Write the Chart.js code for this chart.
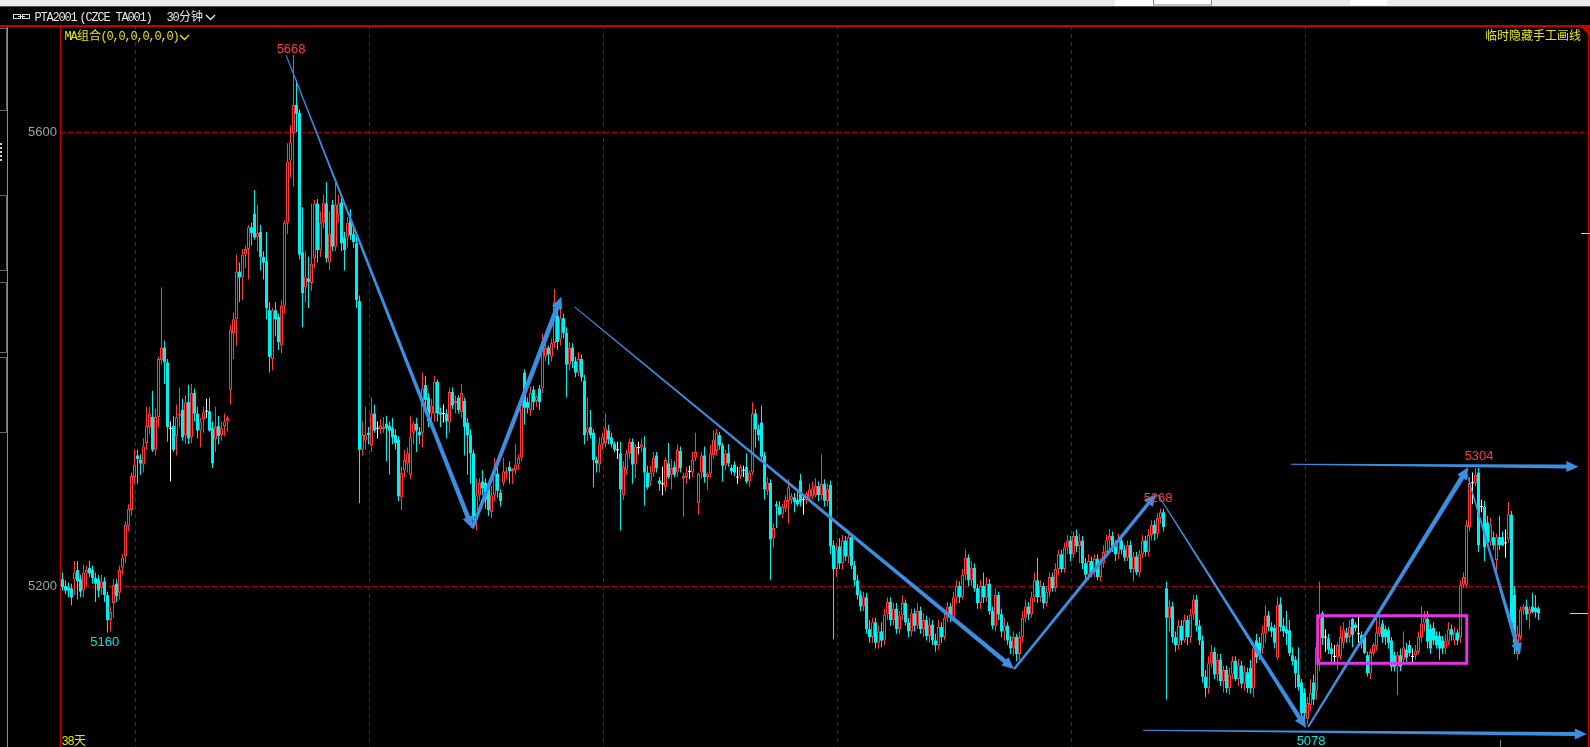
<!DOCTYPE html>
<html><head><meta charset="utf-8">
<script src="https://cdn.jsdelivr.net/npm/chart.js@4/dist/chart.umd.min.js"></script>
<style>html,body{margin:0;padding:0;background:#000;overflow:hidden}canvas{display:block}</style>
</head><body>
<canvas id="c" width="1590" height="747"></canvas>
<script>
// ---------- data (30-minute bars, PTA2001) ----------
const openP=[
5206,5200,5199,5198,5206,5214,5206,5196,5211,5216,
5214,5207,5206,5198,5204,5192,5170,5185,5202,5194,
5216,5226,5253,5267,5296,5315,5311,5307,5326,5340,
5349,5320,5349,5399,5410,5397,5339,5341,5332,5350,
5355,5333,5362,5331,5370,5352,5337,5347,5354,5354,
5339,5329,5341,5333,5341,5345,5373,5423,5435,5477,
5472,5492,5497,5516,5528,5507,5512,5490,5486,5443,
5400,5443,5437,5412,5447,5520,5575,5599,5624,5617,
5494,5463,5471,5467,5489,5537,5496,5520,5537,5485,
5536,5499,5527,5538,5507,5507,5523,5510,5502,5451,
5320,5328,5335,5324,5352,5339,5338,5338,5343,5341,
5339,5333,5329,5278,5302,5308,5298,5335,5343,5336,
5335,5377,5366,5352,5352,5380,5353,5352,5352,5344,
5371,5361,5366,5353,5363,5344,5333,5317,5258,5280,
5292,5291,5286,5265,5280,5299,5282,5291,5299,5305,
5301,5302,5307,5313,5388,5362,5355,5373,5363,5374,
5374,5402,5410,5402,5414,5438,5417,5436,5423,5395,
5410,5398,5388,5400,5381,5335,5340,5335,5311,5307,
5325,5326,5337,5331,5325,5320,5317,5280,5302,5317,
5327,5307,5322,5322,5322,5300,5292,5300,5315,5293,
5290,5287,5308,5298,5305,5300,5319,5295,5296,5301,
5300,5313,5273,5300,5315,5296,5299,5315,5319,5333,
5324,5306,5317,5304,5307,5296,5297,5302,5305,5292,
5300,5352,5338,5344,5315,5284,5291,5242,5272,5270,
5263,5268,5275,5276,5278,5276,5293,5276,5276,5278,
5279,5280,5288,5280,5290,5275,5289,5236,5215,5235,
5220,5240,5226,5243,5218,5205,5192,5182,5190,5162,
5155,5168,5150,5160,5152,5175,5186,5170,5180,5162,
5174,5185,5168,5160,5176,5165,5178,5162,5170,5156,
5166,5152,5148,5164,5155,5172,5182,5172,5190,5200,
5190,5210,5225,5205,5216,5198,5185,5200,5190,5202,
5178,5165,5192,5175,5160,5165,5152,5145,5155,5140,
5155,5172,5182,5175,5190,5205,5190,5200,5185,5195,
5208,5198,5215,5228,5215,5234,5240,5228,5244,5235,
5240,5220,5210,5222,5212,5224,5208,5220,5230,5240,
5244,5235,5228,5240,5232,5225,5236,5215,5226,5212,
5228,5240,5230,5245,5254,5246,5260,5265,5198,5172,
5182,5155,5148,5165,5152,5170,5155,5175,5188,5165,
5152,5120,5110,5132,5142,5122,5135,5116,5126,5110,
5122,5134,5118,5130,5114,5124,5128,5110,5152,5150,
5145,5158,5174,5164,5163,5137,5184,5165,5162,5161,
5139,5135,5122,5115,5106,5083,5095,5115,5108,5135,
5176,5155,5154,5145,5138,5137,5138,5150,5159,5155,
5171,5166,5158,5157,5156,5139,5123,5141,5147,5158,
5167,5162,5161,5152,5139,5129,5139,5135,5144,5148,
5138,5139,5142,5155,5167,5171,5162,5163,5156,5156,
5152,5145,5151,5162,5152,5159,5155,5201,5201,5252,
5291,5291,5300,5270,5270,5256,5239,5243,5223,5243,
5243,5238,5241,5263,5192,5140,5155,5179,5182,5175,
5182,5181,5180];
const highP=[
5212,5205,5203,5202,5222,5222,5210,5219,5218,5222,
5218,5212,5210,5210,5208,5195,5182,5206,5206,5218,
5228,5257,5272,5300,5320,5320,5316,5330,5358,5358,
5372,5356,5402,5463,5416,5400,5345,5350,5360,5375,
5365,5368,5377,5378,5374,5358,5348,5358,5365,5366,
5345,5358,5350,5345,5352,5350,5430,5441,5492,5485,
5497,5500,5518,5520,5549,5536,5518,5495,5512,5450,
5445,5450,5440,5452,5522,5590,5606,5668,5646,5620,
5534,5495,5490,5537,5540,5541,5530,5545,5556,5530,
5540,5555,5545,5545,5512,5525,5532,5515,5508,5456,
5345,5358,5340,5366,5360,5345,5347,5349,5350,5345,
5348,5338,5332,5305,5320,5322,5350,5345,5348,5340,
5388,5385,5370,5365,5385,5382,5357,5360,5356,5375,
5375,5368,5368,5378,5366,5348,5338,5320,5295,5295,
5302,5295,5290,5288,5313,5306,5285,5313,5305,5310,
5304,5325,5316,5368,5391,5366,5376,5376,5368,5377,
5422,5415,5412,5418,5462,5445,5445,5440,5428,5415,
5414,5402,5406,5404,5386,5366,5355,5338,5314,5331,
5335,5352,5342,5335,5327,5327,5327,5310,5320,5330,
5330,5325,5327,5330,5332,5306,5306,5318,5318,5296,
5305,5313,5326,5312,5310,5325,5323,5300,5305,5306,
5318,5335,5300,5318,5323,5300,5324,5337,5338,5336,
5326,5320,5325,5307,5310,5305,5307,5306,5317,5302,
5362,5356,5342,5359,5318,5296,5294,5255,5275,5275,
5272,5280,5294,5282,5282,5285,5299,5281,5283,5290,
5292,5295,5292,5316,5294,5290,5293,5240,5238,5242,
5245,5244,5248,5246,5222,5210,5196,5195,5194,5170,
5172,5172,5165,5168,5180,5190,5190,5185,5185,5178,
5192,5188,5172,5180,5180,5185,5182,5176,5174,5172,
5170,5158,5170,5168,5178,5186,5185,5195,5205,5204,
5215,5232,5228,5222,5220,5202,5205,5212,5208,5206,
5182,5198,5195,5180,5172,5168,5156,5160,5158,5160,
5178,5188,5186,5195,5212,5225,5205,5203,5200,5212,
5212,5220,5232,5232,5238,5245,5244,5248,5250,5246,
5244,5225,5228,5226,5228,5228,5225,5236,5245,5250,
5248,5240,5246,5244,5236,5240,5240,5230,5230,5232,
5245,5244,5250,5258,5258,5264,5268,5268,5204,5188,
5186,5160,5170,5170,5175,5174,5180,5192,5192,5170,
5156,5126,5138,5148,5146,5140,5140,5130,5130,5128,
5138,5138,5136,5134,5130,5128,5135,5150,5158,5155,
5165,5183,5178,5168,5166,5190,5190,5172,5178,5170,
5146,5138,5146,5118,5110,5102,5118,5122,5150,5204,
5178,5162,5158,5150,5148,5150,5165,5168,5163,5170,
5172,5168,5175,5160,5158,5142,5145,5150,5172,5175,
5170,5165,5164,5155,5142,5142,5145,5160,5150,5152,
5145,5148,5160,5182,5178,5178,5166,5168,5160,5160,
5156,5158,5168,5166,5164,5162,5205,5212,5258,5296,
5300,5304,5304,5276,5275,5262,5260,5248,5246,5262,
5248,5250,5274,5266,5200,5165,5182,5184,5188,5182,
5194,5192,5182];
const lowP=[
5196,5193,5190,5183,5192,5188,5190,5190,5200,5208,
5202,5186,5190,5192,5186,5159,5160,5172,5186,5188,
5210,5220,5248,5262,5290,5290,5298,5300,5320,5334,
5318,5315,5340,5395,5378,5327,5292,5318,5315,5340,
5328,5325,5325,5326,5345,5330,5322,5335,5348,5336,
5304,5318,5325,5328,5332,5336,5360,5400,5412,5450,
5452,5480,5470,5500,5505,5495,5478,5470,5435,5388,
5390,5420,5408,5405,5440,5510,5560,5552,5600,5488,
5428,5450,5445,5460,5480,5485,5490,5515,5485,5478,
5495,5495,5520,5495,5478,5498,5505,5498,5445,5273,
5315,5320,5325,5318,5335,5330,5334,5335,5310,5298,
5325,5320,5275,5267,5296,5300,5294,5325,5318,5325,
5322,5355,5340,5345,5345,5345,5340,5344,5330,5335,
5356,5352,5352,5348,5315,5298,5290,5258,5249,5275,
5280,5268,5262,5260,5275,5278,5270,5288,5294,5290,
5290,5298,5302,5310,5342,5352,5350,5355,5358,5355,
5370,5398,5395,5398,5410,5408,5412,5418,5366,5390,
5392,5384,5385,5380,5325,5328,5330,5287,5300,5300,
5320,5322,5325,5322,5318,5312,5249,5276,5298,5312,
5290,5295,5316,5318,5271,5285,5288,5296,5300,5284,
5280,5283,5294,5285,5296,5296,5300,5261,5290,5294,
5296,5310,5263,5295,5291,5285,5296,5312,5315,5320,
5292,5302,5305,5298,5297,5290,5294,5296,5290,5287,
5298,5322,5328,5310,5276,5280,5205,5234,5251,5262,
5260,5265,5255,5272,5265,5270,5270,5263,5272,5275,
5276,5278,5275,5276,5270,5270,5228,5153,5208,5215,
5215,5222,5220,5215,5200,5188,5178,5178,5158,5150,
5150,5145,5145,5146,5148,5170,5165,5165,5158,5158,
5170,5165,5155,5156,5160,5162,5158,5155,5152,5150,
5148,5142,5144,5150,5152,5168,5168,5170,5185,5185,
5188,5205,5200,5200,5195,5180,5180,5185,5186,5175,
5162,5160,5170,5155,5152,5148,5140,5138,5134,5135,
5150,5168,5170,5172,5186,5185,5186,5180,5182,5190,
5195,5195,5210,5212,5212,5228,5222,5225,5230,5220,
5215,5205,5205,5208,5208,5205,5204,5216,5226,5232,
5230,5222,5224,5228,5222,5222,5212,5204,5210,5208,
5225,5226,5226,5240,5240,5242,5255,5248,5100,5160,
5150,5142,5144,5148,5150,5148,5150,5170,5160,5148,
5115,5102,5105,5128,5118,5116,5112,5106,5106,5104,
5118,5116,5112,5110,5108,5106,5105,5102,5132,5135,
5140,5150,5160,5155,5145,5135,5160,5155,5148,5138,
5130,5110,5108,5085,5080,5078,5090,5095,5100,5125,
5148,5142,5140,5132,5132,5126,5135,5145,5150,5150,
5146,5160,5150,5145,5140,5120,5118,5138,5143,5155,
5150,5148,5145,5125,5125,5104,5125,5132,5132,5138,
5132,5135,5140,5150,5160,5145,5140,5148,5145,5135,
5140,5140,5148,5152,5148,5148,5150,5198,5198,5248,
5272,5288,5230,5265,5222,5235,5235,5232,5212,5232,
5235,5225,5238,5160,5140,5135,5152,5175,5170,5162,
5176,5172,5170];
const closeP=[
5199,5196,5196,5190,5212,5204,5195,5212,5214,5211,
5207,5202,5196,5204,5192,5170,5177,5201,5191,5214,
5225,5254,5268,5297,5307,5312,5308,5323,5341,5352,
5320,5349,5400,5410,5397,5340,5339,5320,5349,5352,
5331,5362,5330,5370,5352,5337,5345,5353,5354,5337,
5308,5340,5332,5339,5345,5348,5426,5435,5477,5472,
5492,5497,5516,5511,5507,5511,5490,5485,5445,5402,
5443,5435,5415,5447,5520,5574,5591,5624,5616,5492,
5458,5472,5468,5484,5537,5496,5520,5538,5489,5510,
5499,5536,5537,5502,5496,5520,5509,5503,5452,5320,
5333,5333,5333,5352,5337,5339,5341,5340,5339,5337,
5331,5326,5279,5300,5311,5317,5331,5343,5337,5333,
5374,5364,5345,5359,5380,5352,5351,5352,5345,5371,
5359,5363,5355,5370,5340,5333,5317,5261,5280,5291,
5286,5276,5267,5280,5299,5284,5275,5301,5301,5301,
5303,5307,5313,5361,5357,5357,5370,5362,5367,5362,
5415,5410,5404,5414,5450,5415,5436,5423,5395,5410,
5398,5388,5400,5384,5333,5339,5333,5311,5308,5325,
5331,5339,5329,5325,5320,5320,5285,5305,5317,5327,
5307,5323,5322,5325,5300,5287,5300,5313,5304,5290,
5290,5311,5296,5304,5298,5320,5304,5297,5300,5301,
5311,5318,5299,5315,5296,5299,5317,5329,5335,5324,
5306,5317,5308,5301,5300,5296,5305,5302,5292,5300,
5352,5338,5333,5314,5285,5291,5241,5251,5270,5263,
5270,5276,5287,5279,5274,5272,5274,5276,5281,5285,
5286,5288,5280,5290,5275,5286,5235,5215,5232,5220,
5240,5226,5243,5218,5205,5192,5182,5190,5162,5155,
5168,5150,5160,5152,5175,5186,5170,5180,5162,5174,
5185,5168,5160,5176,5165,5178,5162,5170,5156,5166,
5152,5148,5164,5155,5172,5182,5172,5190,5200,5190,
5210,5225,5205,5216,5198,5185,5200,5190,5202,5178,
5165,5192,5175,5160,5165,5152,5145,5155,5140,5155,
5172,5182,5175,5190,5205,5190,5200,5185,5195,5208,
5198,5215,5228,5215,5234,5240,5228,5244,5235,5240,
5220,5210,5222,5212,5224,5208,5220,5230,5240,5244,
5235,5228,5240,5232,5225,5236,5215,5226,5212,5228,
5240,5230,5245,5254,5246,5260,5265,5252,5172,5182,
5155,5148,5165,5152,5170,5155,5175,5188,5165,5152,
5120,5110,5132,5142,5122,5135,5116,5126,5110,5122,
5134,5118,5130,5114,5124,5110,5110,5145,5137,5140,
5159,5174,5164,5160,5150,5183,5164,5160,5158,5141,
5134,5123,5111,5088,5088,5097,5106,5100,5146,5172,
5154,5155,5144,5140,5138,5148,5155,5162,5154,5164,
5157,5163,5158,5150,5141,5123,5142,5148,5159,5164,
5155,5155,5150,5129,5129,5139,5129,5146,5137,5141,
5138,5143,5155,5167,5172,5151,5145,5152,5148,5145,
5145,5152,5162,5157,5159,5152,5201,5208,5254,5291,
5291,5298,5236,5270,5234,5238,5254,5236,5243,5236,
5236,5238,5263,5167,5150,5158,5179,5182,5175,5180,
5177,5177,5176];

const yTickValues=[5600,5200];
const yTickLabels=['5600','5200'];
// dashed vertical separators (bar index positions)
const sessionMarks=[24.33,102.33,180.33,258.33,336.33,414.33];
// marked extremes: [bar index, price anchor, text, kind]
const extremeLabels=[
  [76.2,5672.7,'5668','hi'],
  [14.07,5150.7,'5160','lo'],
  [365.2,5277.5,'5268','hi'],
  [472.2,5314.1,'5304','hi'],
  [416.2,5063.4,'5078','lo']
];
// hand-drawn arrows: [i0,p0,i1,p1]
const arrowLines=[
  [74.5,5667.8,136.6,5250.8],
  [136.6,5250.8,166.3,5454.9],
  [170.8,5445.8,317.2,5126.9],
  [317.2,5126.9,364.5,5281.1],
  [365.2,5280.2,414.5,5074.9],
  [415.2,5075.8,468.6,5304.6],
  [468.1,5299.3,485.8,5139.2],
  [409.5,5307.2,505.3,5305.1],
  [360.2,5072.8,508.1,5069.6]
];
const arrowWidths=[[1,4.5],[3.5,5],[1,4.5],[2.5,3.5],[1,4.5],[2,5],[1,4],[1,4],[1,4]];
const rangeBox=[418.4,5173.8,468.1,5131.9];

// ---------- styling ----------
const UP='#ff3c3c', DN='#00f0f0', DOJI='#ffffff';
const N=closeP.length;
const idx=Array.from({length:N},(_,i)=>i);
const kind=i=>openP[i]===closeP[i]?0:(closeP[i]>openP[i]?1:-1);
const col=i=>{const k=kind(i);return k===0?DOJI:(k>0?UP:DN);};

const wickData=idx.map(i=>({x:i,y:[Math.min(lowP[i],openP[i],closeP[i]),Math.max(highP[i],openP[i],closeP[i])]}));
const bodyData=idx.map(i=>({x:i,y:kind(i)===0?[closeP[i]-0.45,closeP[i]+0.45]:[openP[i],closeP[i]]}));

const LATIN='12px "Liberation Mono"', CJK='12px "Noto Sans CJK SC"';

function drawArrow(ctx,x0,y0,x1,y1,w0,w1,color){
  const dx=x1-x0,dy=y1-y0,len=Math.hypot(dx,dy),ux=dx/len,uy=dy/len,nx=-uy,ny=ux;
  const hl=12,hw=11;
  const bx=x1-ux*hl,by=y1-uy*hl;
  ctx.fillStyle=color;
  ctx.beginPath();
  ctx.moveTo(x0+nx*w0/2,y0+ny*w0/2);
  ctx.lineTo(bx+nx*w1/2,by+ny*w1/2);
  ctx.lineTo(bx+nx*hw/2,by+ny*hw/2);
  ctx.lineTo(x1,y1);
  ctx.lineTo(bx-nx*hw/2,by-ny*hw/2);
  ctx.lineTo(bx-nx*w1/2,by-ny*w1/2);
  ctx.lineTo(x0-nx*w0/2,y0-ny*w0/2);
  ctx.closePath();ctx.fill();
}
function drawMixed(ctx,str,x,y,color){
  ctx.fillStyle=color;ctx.textAlign='left';ctx.textBaseline='alphabetic';
  let cur=x;
  for(const ch of str){
    const isC=/[\u3000-\u9fff\uff00-\uffef]/.test(ch);
    ctx.font=isC?CJK:LATIN;
    ctx.fillText(ch,cur-(isC?0:0.5),y);
    cur+=isC?12:6;
  }
  return cur;
}
function chevron(ctx,x,y,color){
  ctx.strokeStyle=color;ctx.lineWidth=1.4;ctx.beginPath();
  ctx.moveTo(x,y);ctx.lineTo(x+4.5,y+4.5);ctx.lineTo(x+9,y);ctx.stroke();
}

const deco={
  id:'deco',
  beforeDraw(chart){
    const ctx=chart.ctx;ctx.save();
    ctx.fillStyle='#000';ctx.fillRect(0,0,1590,747);
    ctx.restore();
  },
  beforeDatasetsDraw(chart){
    const ctx=chart.ctx,xs=chart.scales.x,ys=chart.scales.y,a=chart.chartArea;
    ctx.save();
    ctx.strokeStyle='#a00000';ctx.lineWidth=1;
    ctx.setLineDash([5,3]);
    yTickValues.forEach(v=>{const y=Math.round(ys.getPixelForValue(v))+0.5;
      ctx.beginPath();ctx.moveTo(a.left,y);ctx.lineTo(a.right,y);ctx.stroke();});
    ctx.setLineDash([4,4]);
    sessionMarks.forEach(m=>{const x=Math.floor(xs.getPixelForValue(m))+0.5;
      ctx.beginPath();ctx.moveTo(x,a.top);ctx.lineTo(x,a.bottom);ctx.stroke();});
    ctx.restore();
  },
  afterDatasetsDraw(chart){
    const ctx=chart.ctx,xs=chart.scales.x,ys=chart.scales.y;
    const X=v=>xs.getPixelForValue(v),Y=v=>ys.getPixelForValue(v);
    ctx.save();
    ctx.strokeStyle='#e632e6';ctx.lineWidth=3;
    ctx.strokeRect(X(rangeBox[0]),Y(rangeBox[1]),X(rangeBox[2])-X(rangeBox[0]),Y(rangeBox[3])-Y(rangeBox[1]));
    arrowLines.forEach((s,k)=>drawArrow(ctx,X(s[0]),Y(s[1]),X(s[2]),Y(s[3]),arrowWidths[k][0],arrowWidths[k][1],'#3b8fe2'));
    ctx.font='13px "Liberation Sans"';ctx.textAlign='center';ctx.textBaseline='middle';
    extremeLabels.forEach(l=>{ctx.fillStyle=l[3]==='hi'?'#ff3c3c':'#00e6e6';ctx.fillText(l[2],X(l[0]),Y(l[1]));});
    ctx.strokeStyle='#e6e600';ctx.lineWidth=1;
    const ly=Math.round(Y(closeP[N-1]))+0.5;
    ctx.beginPath();ctx.moveTo(1570,ly);ctx.lineTo(1588,ly);ctx.stroke();
    ctx.restore();
  },
  afterDraw(chart){
    const ctx=chart.ctx,ys=chart.scales.y;
    ctx.save();
    // top window strip
    ctx.fillStyle='#ebebeb';ctx.fillRect(0,0,1590,6);
    ctx.fillStyle='#ffffff';ctx.fillRect(1115,0,97,6);ctx.fillRect(1350,0,37,5);
    ctx.strokeStyle='#8a8a8a';ctx.lineWidth=1;ctx.strokeRect(1153.5,-1,58,6);
    ctx.fillStyle='#505050';ctx.fillRect(0,6,1590,1);
    // frame lines
    ctx.fillStyle='#c80000';
    ctx.fillRect(0,25,1590,2);
    ctx.fillRect(60,26,1,721);
    ctx.fillRect(1588,26,1,721);
    ctx.beginPath();ctx.moveTo(1581,27);ctx.lineTo(1590,27);ctx.lineTo(1590,36);ctx.closePath();ctx.fill();
    // left side panel marks
    ctx.fillStyle='#8c8c8c';ctx.fillRect(7,27,1,720);
    ctx.strokeStyle='#6a6a6a';
    [[0,28,82],[0,195,75],[0,282,70],[0,357,75]].forEach(r=>ctx.strokeRect(r[0]-0.5,r[1]+0.5,7,r[2]));
    ctx.fillStyle='#cfcfcf';
    for(let y=143;y<162;y+=4)ctx.fillRect(0,y,2,2);
    ctx.fillStyle='#cccccc';ctx.fillRect(1581,233,9,1);
    ctx.fillStyle='#888888';ctx.fillRect(1500,740,1,7);
    // title row
    ctx.strokeStyle='#d8d8d8';ctx.lineWidth=1;
    ctx.strokeRect(13.5,14.5,7,4);ctx.strokeRect(22.5,14.5,7,4);
    ctx.beginPath();ctx.moveTo(18,16.5);ctx.lineTo(25,16.5);ctx.stroke();
    drawMixed(ctx,'PTA2001',35,21,'#e6e6e6');
    drawMixed(ctx,'(CZCE TA001)',80,21,'#e6e6e6');
    const e=drawMixed(ctx,'30分钟',167,21,'#e6e6e6');
    chevron(ctx,e+3,15,'#e6e6e6');
    // indicator caption
    const m=drawMixed(ctx,'MA组合(0,0,0,0,0,0)',65,40,'#e6e600');
    chevron(ctx,m+1,35,'#e6e600');
    ctx.fillStyle='#e6e600';ctx.font=CJK;ctx.textAlign='right';ctx.textBaseline='alphabetic';
    ctx.fillText('临时隐藏手工画线',1581,40);
    drawMixed(ctx,'38天',62,745,'#e6e600');
    // y tick labels
    ctx.fillStyle='#9aa2ab';ctx.font='13px "Liberation Sans"';ctx.textAlign='right';ctx.textBaseline='middle';
    yTickValues.forEach((v,k)=>ctx.fillText(yTickLabels[k],57,ys.getPixelForValue(v)));
    ctx.restore();
  }
};

new Chart(document.getElementById('c'),{
  type:'bar',
  data:{datasets:[
    {data:wickData,backgroundColor:idx.map(col),borderWidth:0,barThickness:1,grouped:false,order:2,inflateAmount:0},
    {data:bodyData,backgroundColor:idx.map(i=>kind(i)>0?'#000000':col(i)),borderColor:idx.map(col),
     borderWidth:idx.map(i=>kind(i)>0?1:0),borderSkipped:false,barThickness:3,grouped:false,order:1,inflateAmount:0}
  ]},
  options:{
    responsive:false,animation:false,devicePixelRatio:1,
    layout:{padding:{left:60,top:26,right:2,bottom:0}},
    plugins:{legend:{display:false},tooltip:{enabled:false}},
    scales:{
      x:{type:'linear',min:-0.8333,max:508.5,display:false,offset:false,grid:{display:false}},
      y:{min:5058.15,max:5693.4,display:false,grid:{display:false}}
    }
  },
  plugins:[deco]
});
</script>
</body></html>
